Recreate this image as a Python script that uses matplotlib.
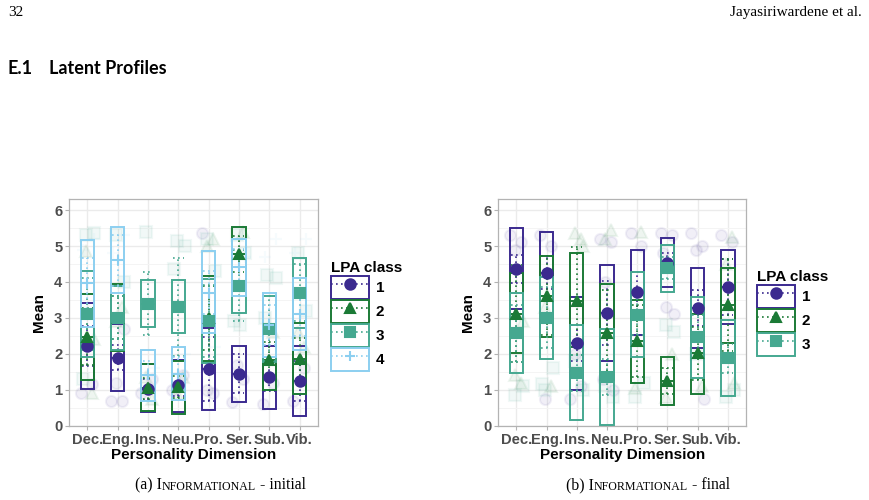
import matplotlib.pyplot as plt
from matplotlib.lines import Line2D
from matplotlib.patches import Rectangle
from matplotlib.legend_handler import HandlerTuple

plt.switch_backend('Agg')
plt.rcParams["font.family"] = "Liberation Sans"

dims = ["Dec.", "Eng.", "Ins.", "Neu.", "Pro.", "Ser.", "Sub.", "Vib."]
colors = ["#3b2a8f", "#1b7a36", "#45a890", "#8ccff0"]
markers = ["o", "^", "s", "+"]

# ---- (a) initial: 4 classes ----
init_mean_1 = [2.22, 1.89, 1.01, 1.13, 1.58, 1.45, 1.36, 1.25]
init_lo_1 = [1.02, 0.96, 0.39, 0.39, 0.44, 0.65, 0.47, 0.27]
init_hi_1 = [3.42, 2.82, 1.72, 1.83, 2.73, 2.23, 2.23, 2.23]
init_ci_1 = [0.55, 0.35, 0.30, 0.30, 0.90, 0.55, 0.40, 0.55]

init_mean_2 = [2.48, 3.00, 1.04, 1.08, 3.00, 4.79, 1.83, 1.85]
init_lo_2 = [1.27, 2.08, 0.42, 0.33, 1.81, 3.96, 0.99, 0.88]
init_hi_2 = [3.66, 3.93, 1.72, 1.80, 4.16, 5.52, 2.80, 2.85]
init_ci_2 = [0.80, 0.60, 0.30, 0.30, 0.90, 0.50, 0.50, 0.60]

init_mean_3 = [3.10, 3.00, 3.40, 3.31, 2.91, 3.90, 2.70, 3.70]
init_lo_3 = [1.90, 2.10, 2.75, 2.57, 1.75, 3.13, 1.78, 2.72]
init_hi_3 = [4.30, 3.90, 4.05, 4.05, 4.07, 5.20, 3.62, 4.67]
init_ci_3 = [1.00, 0.60, 0.87, 1.36, 1.00, 1.00, 0.90, 0.80]

init_mean_4 = [3.96, 4.60, 1.40, 1.45, 3.70, 4.41, 2.80, 3.10]
init_lo_4 = [2.75, 3.70, 0.68, 0.71, 2.57, 3.62, 1.92, 2.10]
init_hi_4 = [5.17, 5.52, 2.12, 2.20, 4.86, 5.20, 3.70, 4.10]
init_ci_4 = [0.70, 0.70, 0.40, 0.45, 0.60, 0.50, 0.55, 0.60]

# individual responses (faint jittered points)
init_pts_1 = [[0.9, 1.15], [0.68, 0.68, 1.2, 2.7], [0.9, 1.3], [1.0, 1.4],
              [5.35, 0.9, 1.0], [0.65, 1.3, 1.7], [0.6, 1.2], [0.7, 1.6]]
init_pts_2 = [[0.9, 4.85, 2.4], [3.3, 2.9], [0.75, 1.35], [1.35, 0.9],
              [5.2, 5.0], [5.4], [2.6], [2.2, 2.6]]
init_pts_3 = [[5.3, 5.35, 1.3], [5.3, 4.0], [5.38], [5.15, 5.0, 4.35],
              [5.2, 4.3], [5.3, 4.8, 2.9, 2.8], [4.2, 4.1, 3.0], [4.8, 3.2]]
init_pts_4 = [[5.2, 4.9, 3.3], [5.3, 4.8], [1.6, 1.0], [2.0],
              [2.2], [4.7], [5.2, 4.7], [5.2, 4.8]]

# ---- (b) final: 3 classes ----
fin_mean_1 = [4.36, 4.26, 2.29, 3.14, 3.72, 4.54, 3.28, 3.86]
fin_lo_1 = [3.26, 3.11, 0.99, 1.81, 2.53, 3.87, 2.15, 2.82]
fin_hi_1 = [5.49, 5.38, 3.59, 4.47, 4.89, 5.21, 4.40, 4.89]
fin_ci_1 = [0.38, 0.45, 0.50, 0.90, 0.55, 0.27, 0.50, 0.78]

fin_mean_2 = [3.12, 3.61, 3.47, 2.59, 2.36, 1.24, 2.01, 3.36]
fin_lo_2 = [2.01, 2.48, 2.18, 1.27, 1.18, 0.57, 0.88, 2.31]
fin_hi_2 = [4.24, 4.73, 4.80, 3.93, 3.50, 1.90, 3.12, 4.40]
fin_ci_2 = [1.35, 1.10, 1.50, 1.20, 1.00, 0.37, 0.75, 1.27]

fin_mean_3 = [2.57, 3.00, 1.47, 1.36, 3.08, 4.39, 2.47, 1.87]
fin_lo_3 = [1.47, 1.85, 0.17, 0.02, 1.90, 3.71, 1.32, 0.83]
fin_hi_3 = [3.68, 4.14, 2.80, 2.70, 4.28, 5.04, 3.59, 2.93]
fin_ci_3 = [0.80, 0.85, 0.50, 0.50, 0.55, 0.30, 0.60, 0.40]

fin_pts_1 = [[5.3, 5.1, 4.9], [5.3, 5.0, 0.75], [0.75, 1.1, 2.0],
             [5.2, 5.1, 4.0, 1.0, 1.3], [5.35, 5.0], [5.35, 5.3, 3.3, 3.1, 4.8],
             [5.35, 5.0, 4.9, 0.75], [5.3, 5.1]]
fin_pts_2 = [[1.2, 1.4, 2.9], [1.1, 3.3], [5.2, 5.35, 5.0], [5.45, 5.2],
             [5.4, 1.05], [2.0, 0.8], [1.1], [5.25, 4.5, 1.2]]
fin_pts_3 = [[0.85, 1.1], [1.0, 1.6, 1.15], [1.8, 1.0], [1.1, 0.8],
             [0.8, 1.2], [2.8, 2.6], [2.0], [0.8, 1.0]]

init_classes = [
    (init_mean_1, init_lo_1, init_hi_1, init_ci_1, init_pts_1),
    (init_mean_2, init_lo_2, init_hi_2, init_ci_2, init_pts_2),
    (init_mean_3, init_lo_3, init_hi_3, init_ci_3, init_pts_3),
    (init_mean_4, init_lo_4, init_hi_4, init_ci_4, init_pts_4),
]
fin_classes = [
    (fin_mean_1, fin_lo_1, fin_hi_1, fin_ci_1, fin_pts_1),
    (fin_mean_2, fin_lo_2, fin_hi_2, fin_ci_2, fin_pts_2),
    (fin_mean_3, fin_lo_3, fin_hi_3, fin_ci_3, fin_pts_3),
]

jit = [-0.22, 0.14, -0.06, 0.21, -0.15, 0.05]
BW = 0.44   # crossbar width
CW = 0.36   # errorbar cap width
GREY = "#4d4d4d"
DOT = (0, (1, 2))


def panel(ax, classes):
    x = list(range(1, len(dims) + 1))
    # raw points
    for k, (m, lo, hi, ci, pts) in enumerate(classes):
        for i, ys in enumerate(pts):
            for j, y in enumerate(ys):
                ax.plot(x[i] + jit[(j + k) % len(jit)], y, marker=markers[k],
                        color=colors[k], alpha=0.07, ms=8, mew=1.5,
                        ls='none', zorder=1)
    for k, (m, lo, hi, ci, pts) in enumerate(classes):
        c = colors[k]
        for i in range(len(dims)):
            ax.add_patch(Rectangle((x[i] - BW / 2, lo[i]), BW, hi[i] - lo[i],
                                   fill=False, ec=c, lw=1.4, zorder=3 + k))
            ax.hlines(m[i], x[i] - BW / 2, x[i] + BW / 2, color=c, lw=1.4,
                      zorder=3 + k)
            ax.vlines(x[i], m[i] - ci[i], m[i] + ci[i], color=c, lw=1.2,
                      linestyles=DOT, zorder=3 + k)
            ax.hlines([m[i] - ci[i], m[i] + ci[i]], x[i] - CW / 2,
                      x[i] + CW / 2, color=c, lw=1.2, linestyles=DOT,
                      zorder=3 + k)
        ax.plot(x, m, marker=markers[k], color=c, ls='none', ms=7.5,
                mew=1.5, zorder=10 + k)

    ax.set_xlim(0.4, 8.6)
    ax.set_ylim(0, 6.3)
    ax.set_xticks(x)
    ax.set_xticklabels(dims)
    ax.set_yticks(range(7))
    ax.set_yticks([0.5 + i for i in range(6)], minor=True)
    ax.grid(True, which='major', color='#ebebeb', lw=1.0)
    ax.grid(True, which='minor', axis='y', color='#f4f4f4', lw=0.7)
    ax.set_axisbelow(True)
    for s in ax.spines.values():
        s.set_color('#b3b3b3')
        s.set_linewidth(0.9)
    ax.tick_params(axis='both', which='major', colors='#b3b3b3', length=3,
                   width=0.8, labelcolor=GREY, labelsize=10.6, pad=2)
    ax.tick_params(axis='both', which='minor', length=0)
    for t in ax.get_xticklabels() + ax.get_yticklabels():
        t.set_fontweight('bold')
    ax.set_xlabel("Personality Dimension", fontsize=11, fontweight='bold',
                  labelpad=1)
    ax.set_ylabel("Mean", fontsize=11, fontweight='bold', labelpad=6)


def legend(fig, n, anchor):
    handles = []
    for k in range(n):
        box = Rectangle((0, 0), 1, 1, fc='white', ec=colors[k], lw=1.4)
        ln = Line2D([], [], color=colors[k], ls=DOT, lw=1.2,
                    marker=markers[k], ms=7.5, mew=1.5)
        handles.append((box, ln))
    leg = fig.legend(handles, [str(k + 1) for k in range(n)],
                     handler_map={tuple: HandlerTuple(ndivide=1, pad=0)},
                     loc='upper left', bbox_to_anchor=anchor,
                     frameon=False, title="LPA class",
                     prop={'weight': 'bold', 'size': 11},
                     title_fontproperties={'weight': 'bold', 'size': 11},
                     handlelength=2.5, handleheight=1.95, labelspacing=0.06,
                     handletextpad=0.45, borderpad=0, alignment='left')
    return leg


fig = plt.figure(figsize=(8.69, 5.0), dpi=100)

ax1 = fig.add_axes([0.0797, 0.1486, 0.2859, 0.4528])
panel(ax1, init_classes)
ax2 = fig.add_axes([0.5734, 0.1486, 0.2851, 0.4528])
panel(ax2, fin_classes)

legend(fig, 4, (0.372, 0.494))
legend(fig, 3, (0.862, 0.476))

# page furniture
fig.text(0.009, 0.975, "32", fontsize=11, family="Liberation Serif",
         va='center', ha='left')
fig.text(0.992, 0.975, "Jayasiriwardene et al.", fontsize=11,
         family="Liberation Serif", va='center', ha='right')
fig.text(0.009, 0.864, "E.1", fontsize=13, family="Lato", fontweight='bold',
         va='center', ha='left')
fig.text(0.056, 0.864, "Latent Profiles", fontsize=13, family="Lato",
         fontweight='bold', va='center', ha='left')


def caption(x, y, label, rest):
    # small-caps emulation: full-size initial, reduced capitals after it
    t1 = fig.text(x, y, label + " I", fontsize=11.3,
                  family="Liberation Serif", va='baseline', ha='left')
    a2 = plt.annotate("NFORMATIONAL", xy=(1, 0), xycoords=t1,
                      va='bottom', ha='left', fontsize=8.6,
                      family="Liberation Serif")
    plt.annotate(rest, xy=(1, 0), xycoords=a2, va='bottom', ha='left',
                 fontsize=11.3, family="Liberation Serif")


caption(0.155, 0.022, "(a)", " - initial")
caption(0.651, 0.022, "(b)", " - final")

fig.savefig("out.png", dpi=100)
